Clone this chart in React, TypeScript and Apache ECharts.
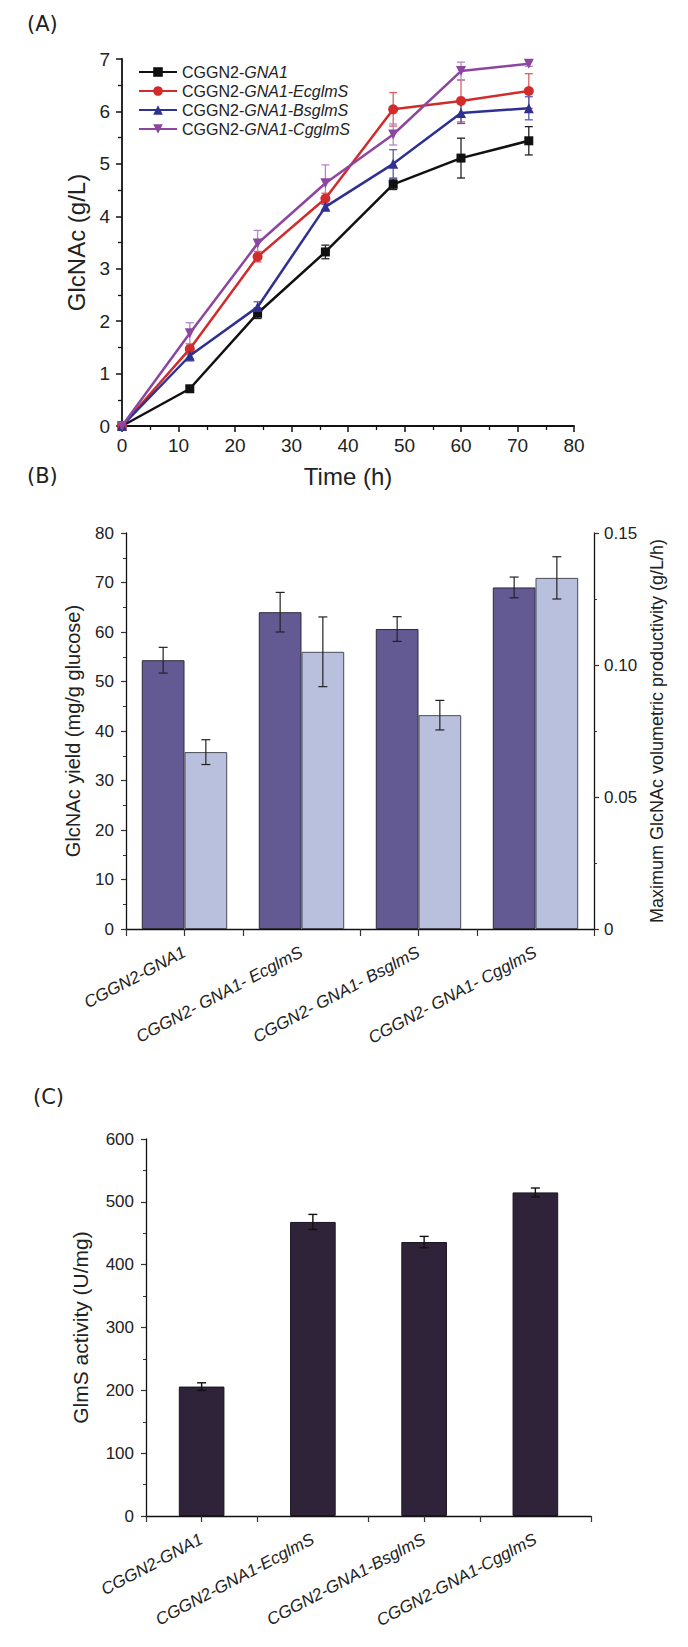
import React, { useEffect, useRef } from "react";
import * as echarts from "echarts";

// ---------- Panel A data ----------
const timeH = [0, 12, 24, 36, 48, 60, 72];
const strainNames = ["CGGN2-GNA1", "CGGN2-GNA1-EcglmS", "CGGN2-GNA1-BsglmS", "CGGN2-GNA1-CgglmS"];
const glcGNA1 = [0, 0.71, 2.15, 3.32, 4.61, 5.11, 5.44];
const glcEc = [0, 1.47, 3.23, 4.34, 6.04, 6.2, 6.39];
const glcBs = [0, 1.34, 2.27, 4.18, 5.0, 5.97, 6.06];
const glcCg = [0, 1.77, 3.48, 4.63, 5.56, 6.77, 6.91];
const errGNA1 = [0, 0.05, 0.1, 0.13, 0.1, 0.38, 0.27];
const errEc = [0, 0.1, 0.1, 0.1, 0.32, 0.4, 0.33];
const errBs = [0, 0.1, 0.1, 0.05, 0.27, 0.2, 0.22];
const errCg = [0, 0.2, 0.25, 0.35, 0.2, 0.17, 0.05];
const xTicksA = [0, 80, 10];
const yTicksA = [0, 7, 1];

// ---------- Panel B data ----------
const catsB = ["CGGN2-GNA1", "CGGN2- GNA1- EcglmS", "CGGN2- GNA1- BsglmS", "CGGN2- GNA1- CgglmS"];
const yieldVals = [54.3, 64.0, 60.6, 69.0];
const yieldErr = [2.6, 4.0, 2.5, 2.1];
const prodVals = [0.067, 0.105, 0.081, 0.133];
const prodErr = [0.0047, 0.0132, 0.0056, 0.008];

// ---------- Panel C data ----------
const catsC = ["CGGN2-GNA1", "CGGN2-GNA1-EcglmS", "CGGN2-GNA1-BsglmS", "CGGN2-GNA1-CgglmS"];
const activity = [206, 468, 436, 515];
const activityErr = [6, 12, 9, 7];

const FONT = "'Liberation Sans', Arial, sans-serif";
const colorsA = ["#111111", "#d12b2b", "#2e3192", "#8c469f"];
const errColorsA = ["#222222", "#d96060", "#5a5cae", "#b487c4"];
const symbolsA = ["rect", "circle", "triangle", "triangle"];
const symRotA = [0, 0, 0, 180];
const seriesA = [glcGNA1, glcEc, glcBs, glcCg];
const errA = [errGNA1, errEc, errBs, errCg];

function errRender(offsetFrac: number, capHalf: number, color: string, lw: number) {
  return (params: any, api: any) => {
    const x = api.value(0);
    const lo = api.value(1);
    const hi = api.value(2);
    if (hi === lo) return null;
    const pLo = api.coord([x, lo]);
    const pHi = api.coord([x, hi]);
    let dx = 0;
    if (offsetFrac !== 0) dx = api.size([1, 0])[0] * offsetFrac;
    const cx = pLo[0] + dx;
    const st = { stroke: color, lineWidth: lw };
    return {
      type: "group",
      children: [
        { type: "line", shape: { x1: cx, y1: pLo[1], x2: cx, y2: pHi[1] }, style: st },
        { type: "line", shape: { x1: cx - capHalf, y1: pHi[1], x2: cx + capHalf, y2: pHi[1] }, style: st },
        { type: "line", shape: { x1: cx - capHalf, y1: pLo[1], x2: cx + capHalf, y2: pLo[1] }, style: st },
      ],
    };
  };
}

const axisLineStyle = (w: number) => ({ show: true, onZero: false, lineStyle: { color: "#111", width: w } });

export default function App() {
  const ref = useRef<HTMLDivElement>(null);
  useEffect(() => {
    document.body.style.margin = "0";
    if (!ref.current) return;
    const chart = echarts.init(ref.current, undefined, { renderer: "svg" });

    const lineSeries: any[] = strainNames.map((name, k) => ({
      type: "line",
      name,
      xAxisIndex: 0,
      yAxisIndex: 0,
      data: timeH.map((t, i) => [t, seriesA[k][i]]),
      symbol: symbolsA[k],
      symbolRotate: symRotA[k],
      symbolSize: k === 0 ? 9 : 10,
      showSymbol: true,
      lineStyle: { color: colorsA[k], width: 2.5 },
      itemStyle: { color: colorsA[k] },
      z: 5 + k,
    }));
    const errSeriesA: any[] = strainNames.map((name, k) => ({
      type: "custom",
      xAxisIndex: 0,
      yAxisIndex: 0,
      renderItem: errRender(0, 4, errColorsA[k], 1.3),
      data: timeH.map((t, i) => [t, seriesA[k][i] - errA[k][i], seriesA[k][i] + errA[k][i]]),
      z: 3,
      silent: true,
    }));

    const tickLabel = (size: number) => ({ color: "#222", fontSize: size, fontFamily: FONT });

    const option: any = {
      animation: false,
      backgroundColor: "#ffffff",
      textStyle: { fontFamily: FONT },
      graphic: [
        { type: "text", left: 27, top: 13, style: { text: "(A)", fontSize: 21, fontFamily: "'DejaVu Sans', sans-serif", fill: "#222" } },
        { type: "text", left: 27, top: 465, style: { text: "(B)", fontSize: 21, fontFamily: "'DejaVu Sans', sans-serif", fill: "#222" } },
        { type: "text", left: 33, top: 1086, style: { text: "(C)", fontSize: 21, fontFamily: "'DejaVu Sans', sans-serif", fill: "#222" } },
      ],
      legend: {
        data: strainNames,
        orient: "vertical",
        left: 133,
        top: 58,
        itemWidth: 38,
        itemHeight: 12,
        itemGap: 1,
        formatter: (name: string) => `{n|CGGN2-}{i|${name.slice(6)}}`,
        textStyle: {
          color: "#222",
          fontSize: 16,
          lineHeight: 18,
          fontFamily: FONT,
          rich: {
            n: { fontSize: 16, lineHeight: 18, fontFamily: FONT, color: "#222" },
            i: { fontSize: 16, lineHeight: 18, fontFamily: FONT, fontStyle: "italic", color: "#222" },
          },
        },
      },
      grid: [
        { left: 122, right: 114, top: 59, height: 367 },
        { left: 126, right: 94, top: 533, height: 396 },
        { left: 126, right: 94, top: 533, height: 396 },
        { left: 146, right: 97, top: 1139, height: 377 },
        { left: 146, right: 97, top: 1139, height: 377 },
      ],
      xAxis: [
        {
          gridIndex: 0,
          type: "value",
          min: xTicksA[0],
          max: xTicksA[1],
          interval: xTicksA[2],
          name: "Time (h)",
          nameLocation: "middle",
          nameGap: 38,
          nameTextStyle: { fontSize: 24, color: "#222", fontFamily: FONT },
          axisLine: axisLineStyle(1.8),
          axisTick: { show: true, inside: false, length: 6, lineStyle: { color: "#111", width: 1.5 } },
          minorTick: { show: true, splitNumber: 2, length: 4, lineStyle: { color: "#111", width: 1.3 } },
          splitLine: { show: false },
          axisLabel: { ...tickLabel(19), margin: 10 },
        },
        {
          gridIndex: 1,
          type: "category",
          data: catsB,
          axisLine: axisLineStyle(1.3),
          axisTick: { show: true, alignWithLabel: false, length: 7, lineStyle: { color: "#333", width: 1.2 } },
          axisLabel: { ...tickLabel(17), fontStyle: "italic", rotate: 28, interval: 0, margin: 22 },
        },
        {
          gridIndex: 2,
          type: "category",
          data: catsB,
          axisLine: { show: false, onZero: false },
          axisTick: { show: true, alignWithLabel: true, length: 7, lineStyle: { color: "#333", width: 1.2 } },
          axisLabel: { show: false },
        },
        {
          gridIndex: 3,
          type: "category",
          data: catsC,
          axisLine: axisLineStyle(1.3),
          axisTick: { show: true, alignWithLabel: false, length: 6, lineStyle: { color: "#333", width: 1.2 } },
          axisLabel: { ...tickLabel(17), fontStyle: "italic", rotate: 28, interval: 0, margin: 22 },
        },
        {
          gridIndex: 4,
          type: "category",
          data: catsC,
          axisLine: { show: false, onZero: false },
          axisTick: { show: true, alignWithLabel: true, length: 6, lineStyle: { color: "#333", width: 1.2 } },
          axisLabel: { show: false },
        },
      ],
      yAxis: [
        {
          gridIndex: 0,
          type: "value",
          min: yTicksA[0],
          max: yTicksA[1],
          interval: yTicksA[2],
          name: "GlcNAc (g/L)",
          nameLocation: "middle",
          nameGap: 30,
          nameTextStyle: { fontSize: 24, color: "#222", fontFamily: FONT },
          axisLine: axisLineStyle(1.8),
          axisTick: { show: true, inside: false, length: 6, lineStyle: { color: "#111", width: 1.5 } },
          minorTick: { show: true, splitNumber: 2, length: 4, lineStyle: { color: "#111", width: 1.3 } },
          splitLine: { show: false },
          axisLabel: { ...tickLabel(19), margin: 12 },
        },
        {
          gridIndex: 1,
          type: "value",
          position: "left",
          min: 0,
          max: 80,
          interval: 10,
          name: "GlcNAc yield (mg/g glucose)",
          nameLocation: "middle",
          nameGap: 43,
          nameTextStyle: { fontSize: 20, color: "#222", fontFamily: FONT },
          axisLine: axisLineStyle(1.3),
          axisTick: { show: true, length: 5, lineStyle: { color: "#333", width: 1.2 } },
          minorTick: { show: true, splitNumber: 2, length: 3, lineStyle: { color: "#333", width: 1 } },
          splitLine: { show: false },
          axisLabel: { ...tickLabel(17), margin: 12 },
        },
        {
          gridIndex: 1,
          type: "value",
          position: "right",
          min: 0,
          max: 0.15,
          interval: 0.05,
          name: "Maximum GlcNAc volumetric productivity (g/L/h)",
          nameLocation: "middle",
          nameRotate: 90,
          nameGap: 47,
          nameTextStyle: { fontSize: 18, color: "#222", fontFamily: FONT },
          axisLine: axisLineStyle(1.3),
          axisTick: { show: true, length: 5, lineStyle: { color: "#333", width: 1.2 } },
          minorTick: { show: true, splitNumber: 2, length: 3, lineStyle: { color: "#333", width: 1 } },
          splitLine: { show: false },
          axisLabel: {
            ...tickLabel(17),
            margin: 10,
            formatter: (v: number) => (v === 0 ? "0" : v.toFixed(2)),
          },
        },
        { gridIndex: 2, type: "value", show: false, min: 0, max: 1 },
        {
          gridIndex: 3,
          type: "value",
          min: 0,
          max: 600,
          interval: 100,
          name: "GlmS activity (U/mg)",
          nameLocation: "middle",
          nameGap: 55,
          nameTextStyle: { fontSize: 21, color: "#222", fontFamily: FONT },
          axisLine: axisLineStyle(1.3),
          axisTick: { show: true, length: 5, lineStyle: { color: "#333", width: 1.2 } },
          minorTick: { show: true, splitNumber: 2, length: 3, lineStyle: { color: "#333", width: 1 } },
          splitLine: { show: false },
          axisLabel: { ...tickLabel(17), margin: 12 },
        },
        { gridIndex: 4, type: "value", show: false, min: 0, max: 1 },
      ],
      series: [
        ...errSeriesA,
        ...lineSeries,
        {
          type: "bar",
          name: "yield",
          xAxisIndex: 1,
          yAxisIndex: 1,
          data: yieldVals,
          barGap: "0%",
          barCategoryGap: "27%",
          itemStyle: { color: "#635a93", borderColor: "#2d2a3a", borderWidth: 1 },
        },
        {
          type: "bar",
          name: "productivity",
          xAxisIndex: 1,
          yAxisIndex: 2,
          data: prodVals,
          barGap: "0%",
          barCategoryGap: "27%",
          itemStyle: { color: "#b8c0de", borderColor: "#4a4a55", borderWidth: 1 },
        },
        {
          type: "custom",
          xAxisIndex: 1,
          yAxisIndex: 1,
          renderItem: errRender(-0.1825, 4.5, "#222", 1.2),
          data: yieldVals.map((v, i) => [i, v - yieldErr[i], v + yieldErr[i]]),
          z: 10,
          silent: true,
        },
        {
          type: "custom",
          xAxisIndex: 1,
          yAxisIndex: 2,
          renderItem: errRender(0.1825, 4.5, "#222", 1.2),
          data: prodVals.map((v, i) => [i, v - prodErr[i], v + prodErr[i]]),
          z: 10,
          silent: true,
        },
        {
          type: "bar",
          name: "activity",
          xAxisIndex: 3,
          yAxisIndex: 4,
          data: activity,
          barWidth: "41%",
          itemStyle: { color: "#2e2339", borderColor: "#1a1420", borderWidth: 1 },
        },
        {
          type: "custom",
          xAxisIndex: 3,
          yAxisIndex: 4,
          renderItem: errRender(0, 4.5, "#111", 1.4),
          data: activity.map((v, i) => [i, v - activityErr[i], v + activityErr[i]]),
          z: 10,
          silent: true,
        },
      ],
    };

    chart.setOption(option);
    return () => chart.dispose();
  }, []);

  return <div ref={ref} style={{ width: 688, height: 1647 }} />;
}
